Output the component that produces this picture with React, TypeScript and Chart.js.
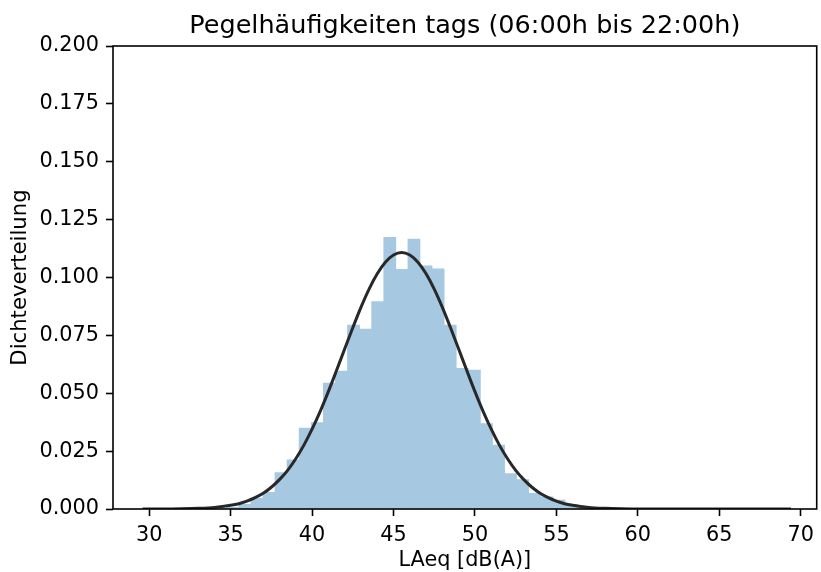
import React, { useEffect, useRef } from "react";
import { Chart, registerables } from "chart.js";

Chart.register(...registerables);

// Histogram: bin centers (dB) and density values
const binCenters = [
  35.125, 35.867, 36.609, 37.351, 38.093, 38.835, 39.577, 40.319, 41.061, 41.803,
  42.545, 43.287, 44.029, 44.771, 45.513, 46.255, 46.997, 47.739, 48.481, 49.223,
  49.965, 50.707, 51.449, 52.191, 52.933, 53.675, 54.417, 55.159, 55.901, 56.643,
];
const binDensity = [
  0.0007, 0.002, 0.0046, 0.0072, 0.0157, 0.0212, 0.035, 0.0373, 0.0544, 0.0596,
  0.0795, 0.0777, 0.0896, 0.1174, 0.1035, 0.1166, 0.105, 0.1037, 0.0795, 0.0608,
  0.06, 0.0369, 0.0276, 0.0153, 0.0127, 0.0068, 0.0053, 0.0039, 0.002, 0.001,
];

// Fitted curve
const fitX = [
  29.6, 30, 31, 32, 33, 34, 35, 35.5, 36, 36.5, 37, 37.5, 38, 38.5, 39, 39.5, 40, 40.5,
  41, 41.5, 42, 42.5, 43, 43.5, 44, 44.5, 45, 45.5, 46, 46.5, 47, 47.5, 48, 48.5, 49,
  49.5, 50, 50.5, 51, 51.5, 52, 52.5, 53, 53.5, 54, 54.5, 55, 55.5, 56, 57, 58, 59, 60,
  62, 64, 66, 68, 69.4,
];
const fitY = [
  0, 0, 0, 0.0001, 0.0003, 0.0007, 0.0016, 0.0023, 0.0034, 0.0049, 0.0068, 0.0094,
  0.0127, 0.0167, 0.0217, 0.0276, 0.0345, 0.0422, 0.0507, 0.0598, 0.0691, 0.0783,
  0.0871, 0.095, 0.1016, 0.1066, 0.1097, 0.1108, 0.1097, 0.1066, 0.1016, 0.095,
  0.0871, 0.0783, 0.0691, 0.0598, 0.0507, 0.0422, 0.0345, 0.0276, 0.0217, 0.0167,
  0.0127, 0.0094, 0.0068, 0.0049, 0.0034, 0.0023, 0.0016, 0.0007, 0.0003, 0.0001, 0,
  0, 0, 0, 0, 0,
];

const xTicks = [30, 35, 40, 45, 50, 55, 60, 65, 70];
const yTicks = [0, 0.025, 0.05, 0.075, 0.1, 0.125, 0.15, 0.175, 0.2];

const TITLE = "Pegelhäufigkeiten tags (06:00h bis 22:00h)";
const FONT = "'DejaVu Sans', sans-serif";

const spinePlugin = {
  id: "spines",
  afterDraw(chart: any) {
    const { ctx, chartArea } = chart;
    ctx.save();
    ctx.strokeStyle = "#000";
    ctx.lineWidth = 1.6;
    ctx.strokeRect(chartArea.left, chartArea.top, chartArea.right - chartArea.left, chartArea.bottom - chartArea.top);
    // title centred over the plot area
    ctx.fillStyle = "#000";
    ctx.font = `25.5px ${FONT}`;
    ctx.textAlign = "center";
    ctx.textBaseline = "alphabetic";
    ctx.fillText(TITLE, (chartArea.left + chartArea.right) / 2, 33);
    ctx.restore();
  },
};

export default function App() {
  const ref = useRef<HTMLCanvasElement | null>(null);
  useEffect(() => {
    document.body.style.margin = "0";
    const canvas = ref.current!;
    const chart = new Chart(canvas, {
      type: "bar",
      data: {
        datasets: [
          {
            type: "line",
            data: fitX.map((x, i) => ({ x, y: fitY[i] })),
            borderColor: "#282828",
            borderWidth: 3,
            pointRadius: 0,
            cubicInterpolationMode: "monotone",
            fill: false,
            order: 0,
          } as any,
          {
            type: "bar",
            data: binCenters.map((x, i) => ({ x, y: binDensity[i] })),
            backgroundColor: "rgb(166,200,225)",
            borderWidth: 0,
            barPercentage: 1,
            categoryPercentage: 1,
            order: 1,
          } as any,
        ],
      },
      options: {
        animation: false,
        responsive: false,
        devicePixelRatio: 1,
        layout: { padding: { left: 0, right: 1, top: 46, bottom: 0 } },
        plugins: {
          legend: { display: false },
          tooltip: { enabled: false },
          title: { display: false },
        },
        scales: {
          x: {
            type: "linear",
            min: 27.78,
            max: 70.98,
            offset: false,
            afterBuildTicks: (s: any) => {
              s.ticks = xTicks.map((v) => ({ value: v }));
            },
            afterFit: (s: any) => {
              s.height = 63;
            },
            grid: {
              drawOnChartArea: false,
              drawTicks: true,
              tickLength: 7,
              tickColor: "#000",
              tickWidth: 1.6,
              offset: false,
            },
            border: { display: false },
            ticks: {
              color: "#000",
              font: { family: FONT, size: 20.8 },
              padding: 7,
              maxRotation: 0,
              autoSkip: false,
            },
            title: {
              display: true,
              text: "LAeq [dB(A)]",
              color: "#000",
              font: { family: FONT, size: 20.8, lineHeight: 1 },
              padding: { top: 0, bottom: 0.6 },
            },
          },
          y: {
            type: "linear",
            min: 0,
            max: 0.2,
            afterBuildTicks: (s: any) => {
              s.ticks = yTicks.map((v) => ({ value: v }));
            },
            afterFit: (s: any) => {
              s.width = 113;
            },
            grid: {
              drawOnChartArea: false,
              drawTicks: true,
              tickLength: 7,
              tickColor: "#000",
              tickWidth: 1.6,
            },
            border: { display: false },
            ticks: {
              color: "#000",
              font: { family: FONT, size: 20.8 },
              padding: 7,
              autoSkip: false,
              callback: (v: any) => Number(v).toFixed(3),
            },
            title: {
              display: true,
              text: "Dichteverteilung",
              color: "#000",
              font: { family: FONT, size: 21.2, lineHeight: 1 },
              padding: { top: 9.6, bottom: 0 },
            },
          },
        },
      },
      plugins: [spinePlugin],
    });
    return () => chart.destroy();
  }, []);
  return <canvas ref={ref} width={821} height={572} style={{ display: "block", width: 821, height: 572 }} />;
}
